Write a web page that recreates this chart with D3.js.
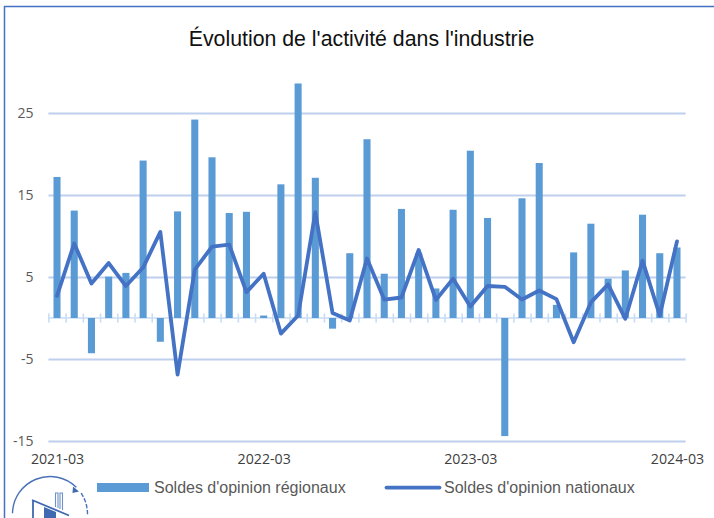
<!DOCTYPE html>
<html lang="fr">
<head>
<meta charset="utf-8">
<script src="https://cdn.jsdelivr.net/npm/d3@7"></script>
<style>
html,body{margin:0;padding:0;background:#fff;overflow:hidden}
svg{display:block}
</style>
</head>
<body>
<div id="chart"></div>
<script>
const title = "Évolution de l'activité dans l'industrie";
const months = ["2021-03","2021-04","2021-05","2021-06","2021-07","2021-08","2021-09","2021-10","2021-11","2021-12","2022-01","2022-02","2022-03","2022-04","2022-05","2022-06","2022-07","2022-08","2022-09","2022-10","2022-11","2022-12","2023-01","2023-02","2023-03","2023-04","2023-05","2023-06","2023-07","2023-08","2023-09","2023-10","2023-11","2023-12","2024-01","2024-02","2024-03"];
const regionaux = [17.2,13.1,-4.3,5.05,5.5,19.2,-2.9,13,24.2,19.6,12.8,12.95,0.3,16.3,28.6,17.1,-1.3,7.9,21.8,5.4,13.3,7.9,3.6,13.2,20.4,12.2,-14.4,14.6,18.9,1.6,8,11.5,4.8,5.8,12.6,7.9,8.6];
const nationaux = [2.7,9.1,4.2,6.7,3.9,6.15,10.5,-6.9,5.9,8.7,8.95,3.15,5.4,-1.9,0.3,12.9,0.6,-0.3,7.25,2.25,2.5,8.3,2.2,4.8,1.4,3.9,3.8,2.25,3.35,2.3,-2.95,1.9,4.1,-0.1,7,0.3,9.35];
const yTicks = [-15,-5,5,15,25];
const xLabels = ["2021-03","2022-03","2023-03","2024-03"];
const legendNames = ["Soldes d'opinion régionaux","Soldes d'opinion nationaux"];

const W = 714, H = 518;
const svg = d3.select("#chart").append("svg").attr("width",W).attr("height",H);
const BAR="#5b9bd5", LINE="#4472c4", GRID="#bfd0ee", TICK="#c9dcf2";
const SANS="'Liberation Sans',Arial,sans-serif", AXF="'Open Sans',sans-serif";

const left=48.4, right=685.6;
const x = d3.scaleBand().domain(months).range([left,right]).paddingInner(0.59).paddingOuter(0.295);
const edge = d3.scaleLinear().domain([0,months.length]).range([left,right]);
const y = d3.scaleLinear().domain([-15,25]).range([441,113]);
const cx = m => x(m)+x.bandwidth()/2;

// frame
svg.append("path").attr("d",`M4.5,518V6.5H714`).attr("fill","none").attr("stroke",LINE).attr("stroke-width",1.5);

// title
svg.append("text").attr("x",361.5).attr("y",46).attr("text-anchor","middle")
  .attr("font-family",SANS).attr("font-size",21.3).attr("fill","#111").text(title);

// grid + y labels
const yAxis = svg.append("g").attr("transform",`translate(${left},0)`)
  .call(d3.axisLeft(y).tickValues(yTicks).tickFormat(d=>String(d)).tickSize(-(right-left)).tickPadding(15));
yAxis.select(".domain").remove();
yAxis.selectAll("line").attr("stroke",GRID).attr("stroke-width",2);
yAxis.selectAll("text").attr("font-family",AXF).attr("font-size",14).attr("fill","#595959");

// zero line with tick marks between categories
const zero = svg.append("g").attr("transform",`translate(0,${y(0)})`)
  .call(d3.axisBottom(edge).tickValues(d3.range(months.length+1)).tickFormat("").tickSize(4.5));
zero.select(".domain").attr("stroke",TICK).attr("stroke-width",1.6).attr("d",`M${left},0H${right}`);
zero.selectAll("line").attr("y1",-4.5).attr("stroke",TICK).attr("stroke-width",1.6);

// bars
svg.append("g").selectAll("rect").data(months).join("rect")
  .attr("x",m=>x(m))
  .attr("width",x.bandwidth())
  .attr("y",(m,i)=>y(Math.max(0,regionaux[i])))
  .attr("height",(m,i)=>Math.abs(y(regionaux[i])-y(0)))
  .attr("fill",BAR);

// line
const line = d3.line().x((v,i)=>cx(months[i])).y(v=>y(v));
svg.append("path").datum(nationaux).attr("d",line).attr("fill","none")
  .attr("stroke",LINE).attr("stroke-width",3.8).attr("stroke-linejoin","round").attr("stroke-linecap","round");

// x labels
const xAxis = svg.append("g").attr("transform","translate(0,447)")
  .call(d3.axisBottom(d3.scalePoint().domain(months).range([cx(months[0]),cx(months[months.length-1])]))
    .tickValues(xLabels).tickSize(0).tickPadding(7));
xAxis.select(".domain").remove();
xAxis.selectAll("text").attr("font-family",AXF).attr("font-size",14.2).attr("fill","#404040");

// legend
const lg = svg.append("g").attr("font-family",SANS).attr("font-size",16).attr("fill","#595959");
lg.append("rect").attr("x",97).attr("y",483).attr("width",52).attr("height",9).attr("fill",BAR);
lg.append("text").attr("x",154).attr("y",493).text(legendNames[0]);
lg.append("path").attr("d","M386.5,487.6H439.5").attr("stroke",LINE).attr("stroke-width",3.8).attr("stroke-linecap","round");
lg.append("text").attr("x",444).attr("y",493).text(legendNames[1]);

// logo
const logo = svg.append("g").attr("transform","translate(50,514)").attr("fill","none").attr("stroke","#4a72b8");
const arc = d3.arc().innerRadius(37.5).outerRadius(37.5);
logo.append("path").attr("d",arc({startAngle:-1.55,endAngle:0.78})).attr("stroke-width",1.4);
logo.append("path").attr("d",arc({startAngle:0.98,endAngle:1.6})).attr("stroke-width",1.4).attr("stroke-dasharray","4 2");
logo.append("path").attr("d","M23,-27.5L29,-22.5L22.5,-21Z").attr("fill","#3f69b0").attr("stroke","none");
logo.append("path").attr("d","M-18,-14L19,1.5M-17,-13V4").attr("stroke-width",1.8).attr("stroke","#3f69b0");
logo.append("path").attr("d","M5.5,-7V-21H8V-6M10,-5V-21H12.5V-4").attr("stroke-width",1.1).attr("stroke","#6f90c8");
logo.append("path").attr("d","M-6,-7L6,-2V4H-6Z").attr("fill","#3f69b0").attr("stroke","none");
</script>
</body>
</html>
